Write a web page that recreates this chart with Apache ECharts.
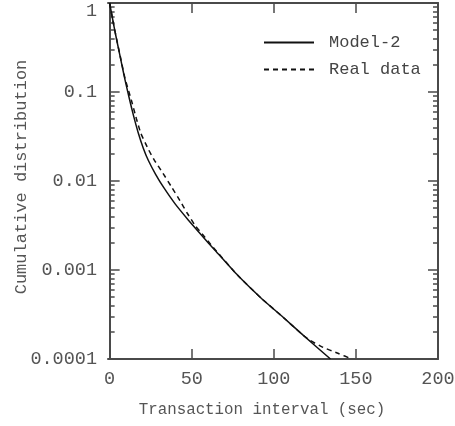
<!DOCTYPE html>
<html>
<head>
<meta charset="utf-8">
<script src="https://cdn.jsdelivr.net/npm/echarts@6/dist/echarts.min.js"></script>
<style>
html,body{margin:0;padding:0;background:#fff;}
#chart{width:455px;height:426px;}
</style>
</head>
<body>
<div id="chart"></div>
<script>
// ---- data ----
const modelX = [0, 1, 2.5, 4.3, 7, 9.4, 12.2, 14.5, 17.4, 20.5, 23.6, 28, 33, 40, 48, 56, 64, 78, 92.5, 105, 118, 134.5];
const modelY = [1, 0.794, 0.565, 0.384, 0.221, 0.136, 0.0813, 0.0546, 0.0349, 0.0234, 0.0170, 0.0119, 0.00841, 0.00550, 0.00363, 0.00245, 0.00168, 0.000871, 0.000479, 0.000302, 0.000184, 0.0001];

const realX = [0, 1, 2.5, 4.3, 7, 9.4, 13.2, 16.3, 19.0, 23.8, 27.2, 32.5, 37.6, 42.8, 47.2, 52.1, 57.5, 62.8, 78, 92.5, 105, 118, 122, 130, 139, 147.5];
const realY = [1, 0.794, 0.565, 0.389, 0.226, 0.141, 0.0813, 0.0501, 0.0344, 0.0223, 0.0172, 0.0122, 0.00863, 0.00603, 0.00437, 0.00316, 0.0024, 0.00182, 0.000871, 0.000479, 0.000302, 0.000184, 0.000162, 0.000135, 0.000116, 0.0001];

const seriesNames = ['Model-2', 'Real data'];
const xTicks = [0, 50, 100, 150, 200];
const yTicks = [0.0001, 0.001, 0.01, 0.1, 1];
const yTickLabels = ['0.0001', '0.001', '0.01', '0.1', '1'];
const yMinorTicks = [];
for (let d = -4; d <= -1; d++) {
  for (let k = 2; k <= 9; k++) yMinorTicks.push(+(k * Math.pow(10, d)).toPrecision(3));
}
const xTitle = 'Transaction interval (sec)';
const yTitle = 'Cumulative distribution';

// ---- chart ----
const FONT = '"Liberation Mono", "DejaVu Sans Mono", monospace';
const AXIS_COLOR = '#4a4a4a';
const TEXT_COLOR = '#555';

const pairs = (xs, ys) => xs.map((x, i) => [x, ys[i]]);

const chart = echarts.init(document.getElementById('chart'), null, {renderer: 'canvas'});

const yBase = {
  type: 'log', logBase: 10, min: 0.0001, max: 1,
  splitLine: {show: false}, minorTick: {show: false}, minorSplitLine: {show: false}
};

chart.setOption({
  animation: false,
  backgroundColor: '#fff',
  grid: {left: 108, right: 17, top: 3, bottom: 67, containLabel: false, outerBoundsMode: 'none'},
  legend: {
    data: seriesNames,
    orient: 'vertical',
    left: 258, top: 29,
    itemWidth: 50, itemHeight: 14, itemGap: 10,
    itemStyle: {opacity: 0, borderWidth: 0},
    textStyle: {fontFamily: FONT, fontSize: 17, color: '#444', padding: [0, 0, 0, 10]}
  },
  xAxis: [
    {
      type: 'value', min: -1, max: 200, position: 'bottom',
      axisLine: {show: true, lineStyle: {color: AXIS_COLOR, width: 2}},
      axisTick: {show: true, inside: true, length: 10, customValues: xTicks, lineStyle: {color: AXIS_COLOR, width: 1.5}},
      axisLabel: {customValues: xTicks, margin: 11, fontFamily: FONT, fontSize: 18.5, color: TEXT_COLOR},
      splitLine: {show: false},
      name: xTitle, nameLocation: 'middle', nameGap: 43,
      nameTextStyle: {fontFamily: FONT, fontSize: 15.8, color: TEXT_COLOR, padding: [0, 22, 0, 0]}
    },
    {
      type: 'value', min: -1, max: 200, position: 'top',
      axisLine: {show: true, lineStyle: {color: AXIS_COLOR, width: 2}},
      axisTick: {show: true, inside: true, length: 10, customValues: xTicks, lineStyle: {color: AXIS_COLOR, width: 1.5}},
      axisLabel: {show: false},
      splitLine: {show: false}
    }
  ],
  yAxis: [
    Object.assign({}, yBase, {
      position: 'left',
      axisLine: {show: true, lineStyle: {color: AXIS_COLOR, width: 2}},
      axisTick: {show: true, inside: true, length: 10, customValues: yTicks, lineStyle: {color: AXIS_COLOR, width: 1.5}},
      axisLabel: {
        customValues: yTicks, margin: 11, fontFamily: FONT, fontSize: 18.5, color: TEXT_COLOR,
        formatter: function (v) {
          const i = yTicks.findIndex(t => Math.abs(Math.log10(t) - Math.log10(v)) < 1e-6);
          const s = i >= 0 ? yTickLabels[i] : String(v);
          return i === yTicks.length - 1 ? '{top|' + s + '}' : s;
        },
        rich: {top: {fontFamily: FONT, fontSize: 18.5, color: TEXT_COLOR, padding: [16, 0, 0, 0]}}
      },
      name: yTitle, nameLocation: 'middle', nameGap: 78, nameMoveOverlap: false,
      nameTextStyle: {fontFamily: FONT, fontSize: 17, color: TEXT_COLOR, padding: [0, 0, 0, 8]}
    }),
    Object.assign({}, yBase, {
      position: 'left',
      axisLine: {show: false},
      axisTick: {show: true, inside: true, length: 5, customValues: yMinorTicks, lineStyle: {color: AXIS_COLOR, width: 1.5}},
      axisLabel: {show: false}
    }),
    Object.assign({}, yBase, {
      position: 'right',
      axisLine: {show: true, lineStyle: {color: AXIS_COLOR, width: 2}},
      axisTick: {show: true, inside: true, length: 10, customValues: yTicks, lineStyle: {color: AXIS_COLOR, width: 1.5}},
      axisLabel: {show: false}
    }),
    Object.assign({}, yBase, {
      position: 'right',
      axisLine: {show: false},
      axisTick: {show: true, inside: true, length: 5, customValues: yMinorTicks, lineStyle: {color: AXIS_COLOR, width: 1.5}},
      axisLabel: {show: false}
    })
  ],
  series: [
    {
      name: seriesNames[0], type: 'line', xAxisIndex: 0, yAxisIndex: 0,
      data: pairs(modelX, modelY),
      symbol: 'none', smooth: 0.15,
      lineStyle: {color: '#111', width: 1.5, type: 'solid'},
      itemStyle: {color: '#111'}
    },
    {
      name: seriesNames[1], type: 'line', xAxisIndex: 0, yAxisIndex: 0,
      data: pairs(realX, realY),
      symbol: 'none', smooth: 0.15,
      lineStyle: {color: '#111', width: 1.5, type: [5, 4]},
      itemStyle: {color: '#111'}
    }
  ]
});
</script>
</body>
</html>
